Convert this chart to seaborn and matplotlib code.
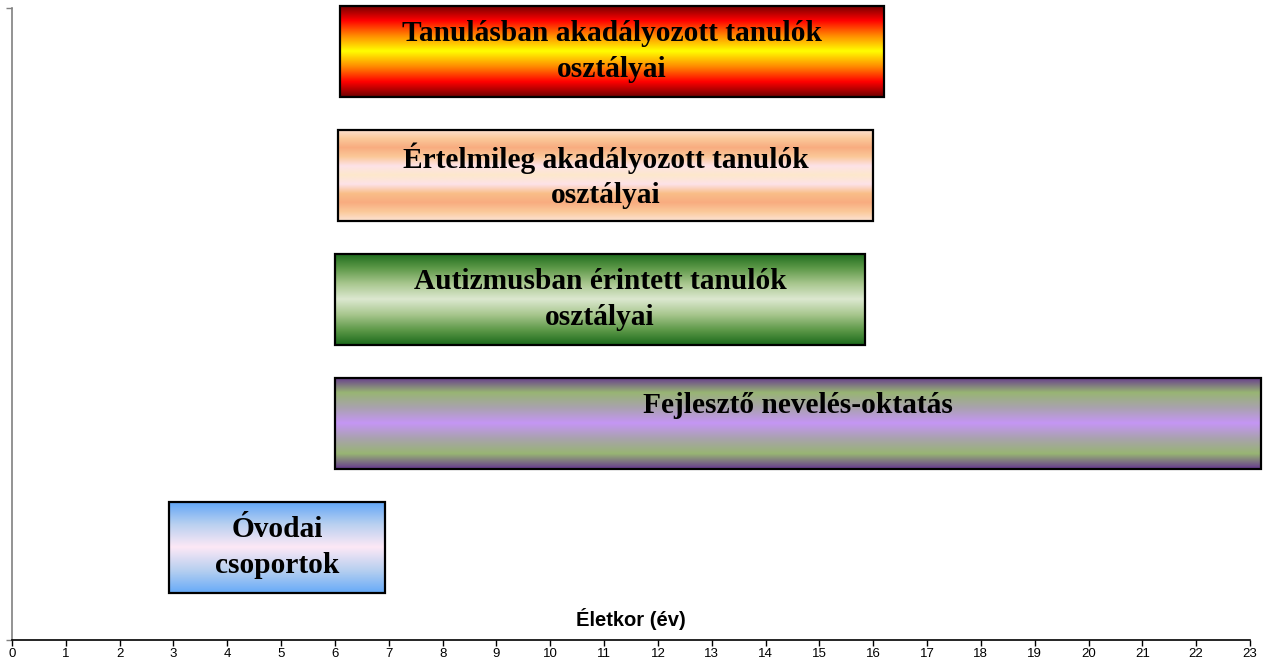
import numpy as np
import matplotlib
matplotlib.use("Agg")
import matplotlib.pyplot as plt
from matplotlib.colors import LinearSegmentedColormap
import seaborn as sns

# képzési formák (felülről lefelé) és az életkor-tartományok
groups = [
    "Tanulásban akadályozott tanulók\nosztályai",
    "Értelmileg akadályozott tanulók\nosztályai",
    "Autizmusban érintett tanulók\nosztályai",
    "Fejlesztő nevelés-oktatás\n ",
    "Óvodai\ncsoportok",
]
start_age = [6.1, 6.05, 6.0, 6.0, 2.92]
end_age = [16.2, 16.0, 15.85, 23.2, 6.93]
age_ticks = list(range(0, 24))

# színátmenetek (felülről lefelé)
gradients = [
    ["#6e0000", "#ff0000", "#ff8c00", "#ffff00", "#ff8c00", "#ff0000", "#6e0000"],
    ["#fde3d4", "#fbc99a", "#f8ac80", "#fbc898", "#fde2e8", "#fde8cc",
     "#fde2e8", "#f9be88", "#f8ac80", "#fbc99a", "#fde3d4"],
    ["#1b6a1b", "#5f9a4a", "#a9c78f", "#dce8d0", "#a9c78f", "#5f9a4a", "#1b6a1b"],
    ["#65388f", "#98b573", "#a9a2ae", "#c596f5", "#a9a2ae", "#98b573", "#65388f"],
    ["#5ea4f7", "#b8d0f0", "#fde8f6", "#b8d0f0", "#66aaf8"],
]

sns.set_theme(style="ticks")
plt.rcParams['font.family'] = ['Liberation Sans', 'DejaVu Sans']

fig = plt.figure(figsize=(12.63, 6.61), dpi=100)
ax = fig.add_axes([12 / 1263, 21 / 661, 1238 / 1263, 632 / 661])

sns.barplot(x=end_age, y=groups, orient="y", width=0.74, color="white", ax=ax)

grad = np.linspace(0, 1, 256).reshape(-1, 1)
for patch, s, e, stops, label in zip(ax.patches, start_age, end_age, gradients, groups):
    patch.set_x(s)
    patch.set_width(e - s)
    patch.set_facecolor("none")
    patch.set_edgecolor("black")
    patch.set_linewidth(1.6)
    patch.set_zorder(3)
    patch.set_clip_on(False)
    y0 = patch.get_y()
    h = patch.get_height()
    cmap = LinearSegmentedColormap.from_list("g", stops)
    ax.imshow(grad, cmap=cmap, aspect="auto", extent=(s, e, y0 + h, y0),
              origin="upper", zorder=2, clip_on=False, interpolation="bilinear")
    ax.text((s + e) / 2, y0 + h / 2, label, ha="center", va="center",
            fontsize=21.2, fontweight="bold", family="Liberation Serif",
            color="black", linespacing=1.4, zorder=4)

ax.set_xlim(0, 23)
ax.set_ylim(4.747, -0.352)
ax.set_xticks(age_ticks)
ax.set_xticklabels([str(t) for t in age_ticks], fontsize=9.5, color="black")
ax.set_yticks(list(ax.get_ylim()))
ax.set_yticklabels([])
ax.set_ylabel("")
ax.set_xlabel("Életkor (év)", fontsize=14.5, fontweight="bold", color="black")
ax.xaxis.set_label_coords(0.5, 0.016)
ax.xaxis.label.set_va("bottom")

sns.despine(ax=ax, top=True, right=True)
ax.spines["left"].set_color("#808080")
ax.spines["left"].set_linewidth(1.2)
ax.spines["bottom"].set_color("black")
ax.spines["bottom"].set_linewidth(1.2)
ax.tick_params(axis="x", length=4, width=1, color="black", pad=2)
ax.tick_params(axis="y", length=4, width=1, color="#808080")
ax.grid(False)

fig.savefig("out.png", dpi=100)
